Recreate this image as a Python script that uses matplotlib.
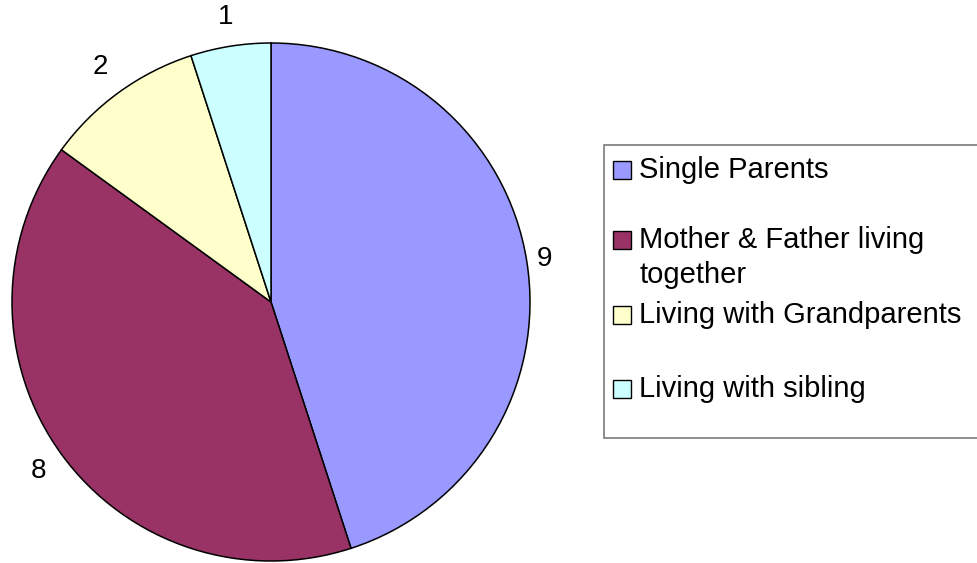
import numpy as np
import matplotlib.pyplot as plt
from matplotlib.patches import Rectangle

plt.rcParams['font.family'] = ['Liberation Sans', 'DejaVu Sans']

# household types and number of pupils in each
labels = ['Single Parents', 'Mother & Father living\ntogether',
          'Living with Grandparents', 'Living with sibling']
values = [9, 8, 2, 1]
colors = ['#9999FF', '#993366', '#FFFFCC', '#CCFFFF']

W, H = 977, 563
fig = plt.figure(figsize=(W / 100, H / 100), dpi=100)

# pie centre at (271, 302) px, radius 259 px
cx, cy, r = 271, 302, 259
ax = fig.add_axes([(cx - r) / W, (H - cy - r) / H, 2 * r / W, 2 * r / H])
wedges, texts = ax.pie(values, labels=[str(v) for v in values], colors=colors,
                       startangle=90, counterclock=False,
                       wedgeprops=dict(edgecolor='black', linewidth=1.1),
                       textprops=dict(fontsize=20))
# value labels sit just outside each slice, centred on the mid angle
label_dist = [1.07, 1.11, 1.12, 1.115]
for w, t, d in zip(wedges, texts, label_dist):
    w.set_clip_on(False)
    mid = np.deg2rad((w.theta1 + w.theta2) / 2)
    t.set_position((d * np.cos(mid), d * np.sin(mid)))
    t.set_ha('center')
    t.set_va('center')
ax.set_xlim(-1, 1)
ax.set_ylim(-1, 1)
ax.set_aspect('equal')
ax.axis('off')

# legend box drawn by hand so the two-line entry spaces like the original
lx0, ly0, lx1, ly1 = 604, 145, 985, 438
fig.patches.append(Rectangle((lx0 / W, 1 - ly1 / H), (lx1 - lx0) / W, (ly1 - ly0) / H,
                             transform=fig.transFigure, facecolor='white',
                             edgecolor='#7a7a7a', linewidth=1.2))
baselines = [178, 248, 323, 397]
for lab, col, y in zip(labels, colors, baselines):
    fig.patches.append(Rectangle((613 / W, 1 - (y + 1) / H), 18 / W, 18 / H,
                                 transform=fig.transFigure, facecolor=col,
                                 edgecolor='black', linewidth=1.0))
    first, *rest = lab.split('\n')
    fig.text(639 / W, 1 - y / H, first, fontsize=21, va='baseline', ha='left')
    for i, line in enumerate(rest, 1):
        fig.text(639 / W, 1 - (y + 35 * i) / H, line, fontsize=21,
                 va='baseline', ha='left')

fig.savefig('out.png', dpi=100)
